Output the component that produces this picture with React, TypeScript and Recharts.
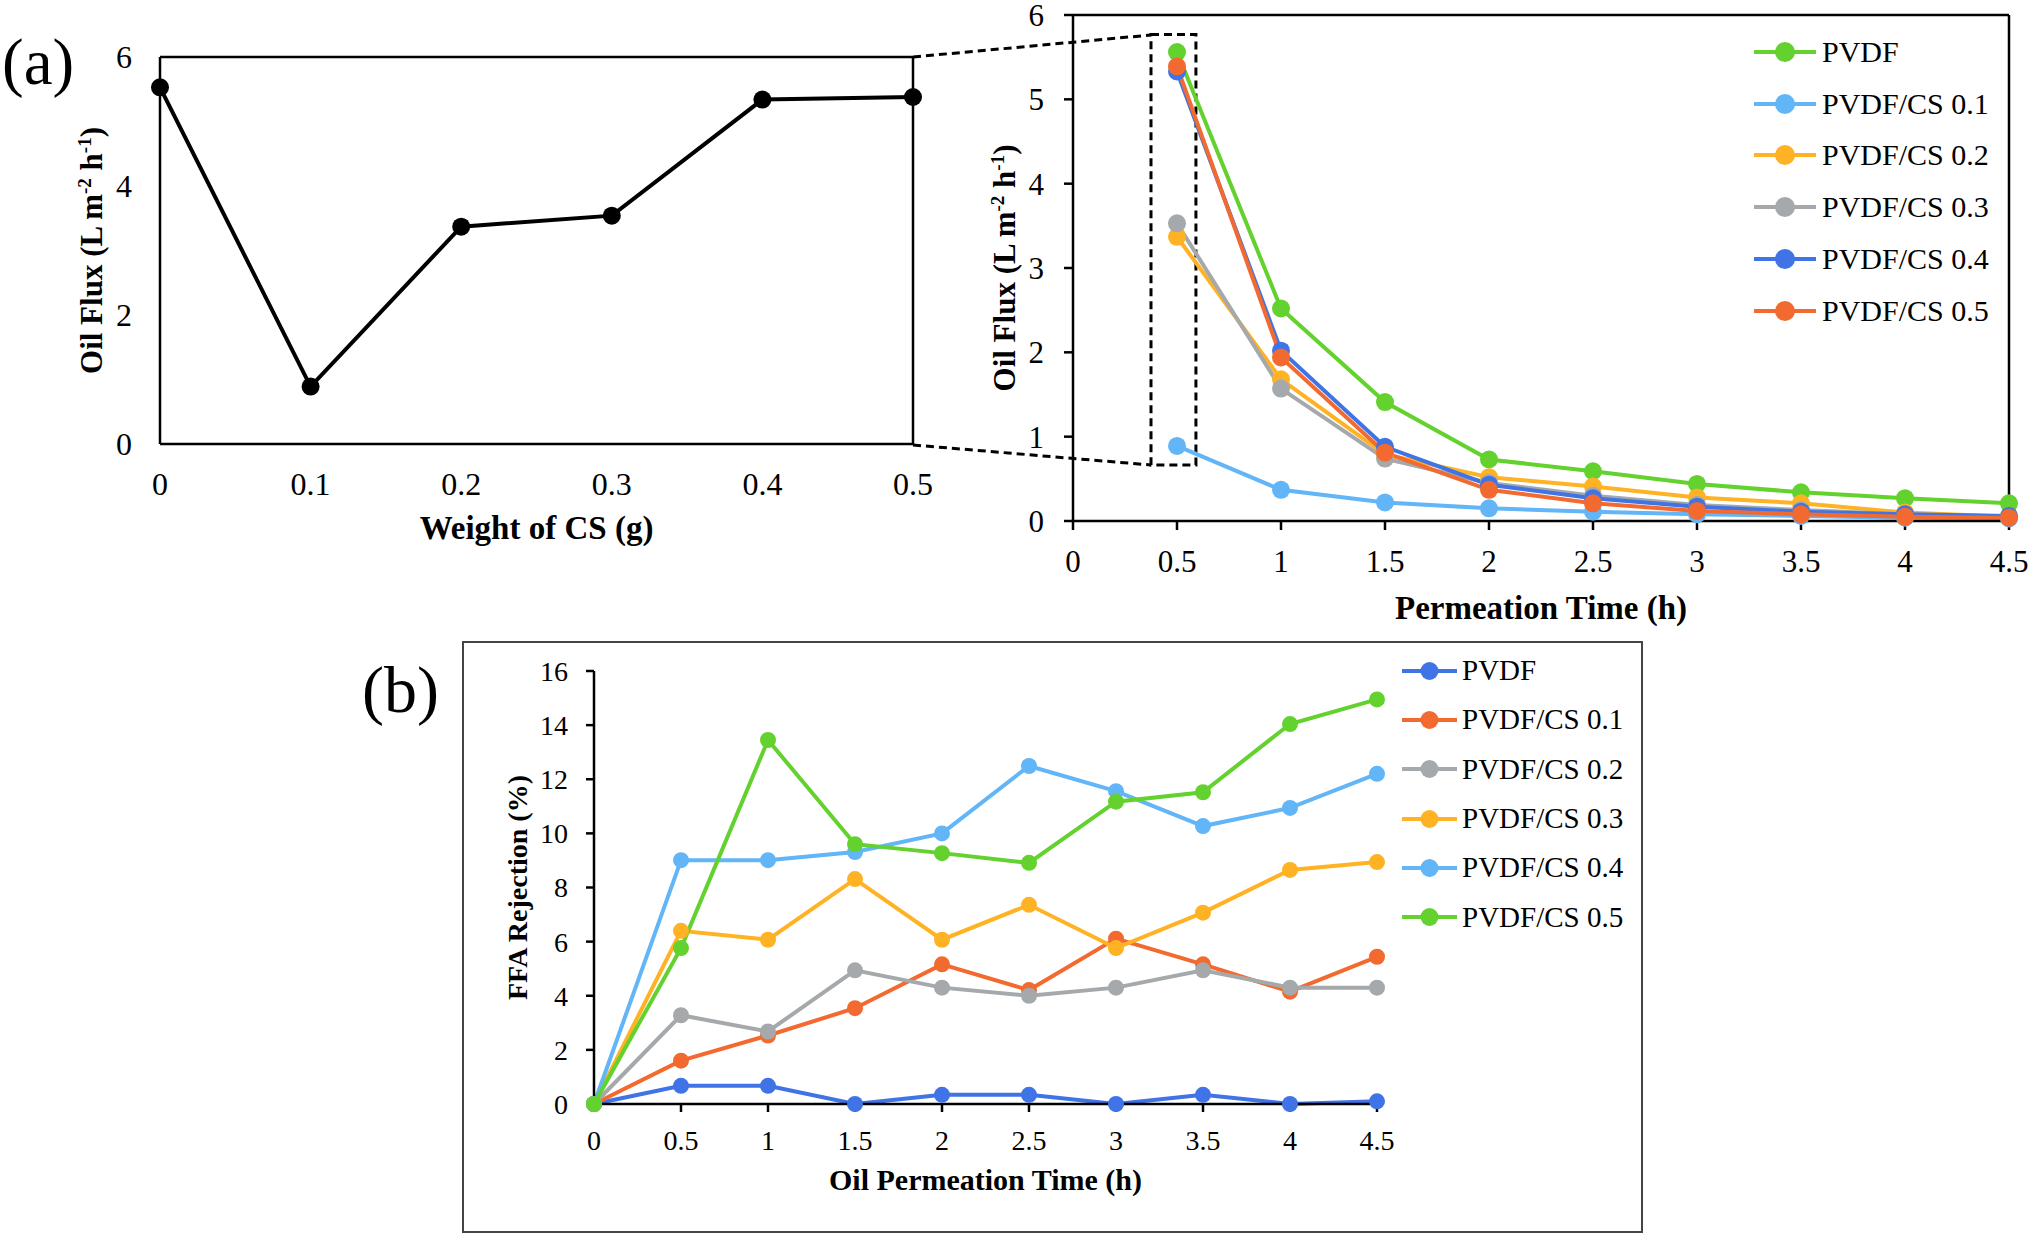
import React from "react"
import { LineChart, Line, XAxis, YAxis, Legend, Label, ReferenceLine, ReferenceArea } from "recharts"

const FONT = "'Liberation Serif', 'Times New Roman', serif"

// (a) left panel: oil flux against weight of CS
const csWeight = [0, 0.1, 0.2, 0.3, 0.4, 0.5]
const csFlux = [5.53, 0.89, 3.37, 3.54, 5.34, 5.38]

// (a) right panel: oil flux against permeation time
const permTime = [0.5, 1, 1.5, 2, 2.5, 3, 3.5, 4, 4.5]
const fluxPVDF = [5.56, 2.52, 1.41, 0.73, 0.59, 0.44, 0.34, 0.27, 0.21]
const fluxCS01 = [0.89, 0.37, 0.22, 0.15, 0.11, 0.08, 0.06, 0.04, 0.03]
const fluxCS02 = [3.37, 1.68, 0.79, 0.52, 0.41, 0.28, 0.21, 0.1, 0.05]
const fluxCS03 = [3.53, 1.57, 0.74, 0.45, 0.3, 0.19, 0.13, 0.08, 0.05]
const fluxCS04 = [5.33, 2.02, 0.88, 0.43, 0.27, 0.17, 0.11, 0.08, 0.06]
const fluxCS05 = [5.39, 1.94, 0.81, 0.37, 0.21, 0.12, 0.08, 0.05, 0.04]
const fluxNames = ["PVDF", "PVDF/CS 0.1", "PVDF/CS 0.2", "PVDF/CS 0.3", "PVDF/CS 0.4", "PVDF/CS 0.5"]
const fluxColors = ["#63d12e", "#62b5f6", "#ffb224", "#a5a9ab", "#3f73e6", "#f26a2f"]
const timeTicks = [0, 0.5, 1, 1.5, 2, 2.5, 3, 3.5, 4, 4.5]

// (b) FFA rejection against oil permeation time
const rejTime = [0, 0.5, 1, 1.5, 2, 2.5, 3, 3.5, 4, 4.5]
const rejPVDF = [0, 0.67, 0.67, 0, 0.34, 0.34, 0, 0.34, 0, 0.1]
const rejCS01 = [0, 1.6, 2.53, 3.54, 5.16, 4.21, 6.11, 5.16, 4.15, 5.44]
const rejCS02 = [0, 3.28, 2.68, 4.94, 4.3, 4.0, 4.3, 4.94, 4.3, 4.3]
const rejCS03 = [0, 6.4, 6.07, 8.31, 6.07, 7.36, 5.76, 7.07, 8.65, 8.94]
const rejCS04 = [0, 9.01, 9.01, 9.31, 10.0, 12.49, 11.56, 10.27, 10.94, 12.2]
const rejCS05 = [0, 5.76, 13.45, 9.6, 9.27, 8.91, 11.17, 11.52, 14.04, 14.95]
const rejNames = ["PVDF", "PVDF/CS 0.1", "PVDF/CS 0.2", "PVDF/CS 0.3", "PVDF/CS 0.4", "PVDF/CS 0.5"]
const rejColors = ["#3f73e6", "#f26a2f", "#a5a9ab", "#ffb224", "#62b5f6", "#63d12e"]

const weightData = csWeight.map((w, i) => ({ w, flux: csFlux[i] }))

const fluxSeries = [fluxPVDF, fluxCS01, fluxCS02, fluxCS03, fluxCS04, fluxCS05]
const fluxData = permTime.map((t, i) => {
  const row: any = { t }
  fluxSeries.forEach((s, k) => (row["s" + k] = s[i]))
  return row
})

const rejSeries = [rejPVDF, rejCS01, rejCS02, rejCS03, rejCS04, rejCS05]
const rejData = rejTime.map((t, i) => {
  const row: any = { t }
  rejSeries.forEach((s, k) => (row["s" + k] = s[i]))
  return row
})

const axisLine = { stroke: "#000", strokeWidth: 2.5 }

function tickStyle(size: number) {
  return { fill: "#000", fontSize: size, fontFamily: FONT }
}

// x axis title, baseline placed "dy" below the axis line
function xTitle(text: string, dy: number, size: number) {
  return (props: any) => {
    const vb = props.viewBox
    return (
      <text x={vb.x + vb.width / 2} y={vb.y + dy} textAnchor="middle" fontFamily={FONT} fontWeight="bold" fontSize={size} fill="#000">
        {text}
      </text>
    )
  }
}

// rotated y axis title, centred on the plot height
function yTitle(cx: number, size: number, flux: boolean, text = "") {
  return (props: any) => {
    const vb = props.viewBox
    const x = vb.x + cx
    const cy = vb.y + vb.height / 2
    const sup = Math.round(size * 0.62)
    const up = Math.round(size * 0.36)
    return (
      <text x={x} y={cy + size * 0.35} transform={`rotate(-90 ${x} ${cy})`} textAnchor="middle" fontFamily={FONT} fontWeight="bold" fontSize={size} fill="#000">
        {flux ? (
          <>
            Oil Flux (L m
            <tspan dy={-up} fontSize={sup}>-2</tspan>
            <tspan dy={up}> h</tspan>
            <tspan dy={-up} fontSize={sup}>-1</tspan>
            <tspan dy={up}>)</tspan>
          </>
        ) : (
          text
        )}
      </text>
    )
  }
}

function SeriesLegend({ names, colors, rowH, fontSize, lineW, r, gap }: any) {
  return (
    <div>
      {names.map((n: string, i: number) => (
        <div key={n} style={{ display: "flex", alignItems: "center", height: rowH }}>
          <svg width={lineW} height={24}>
            <line x1={0} y1={12} x2={lineW} y2={12} stroke={colors[i]} strokeWidth={4} />
            <circle cx={lineW / 2} cy={12} r={r} fill={colors[i]} />
          </svg>
          <span style={{ marginLeft: gap, fontSize, fontFamily: FONT, color: "#000", lineHeight: 1, whiteSpace: "nowrap" }}>{n}</span>
        </div>
      ))}
    </div>
  )
}

export default function App() {
  return (
    <div style={{ position: "absolute", left: 0, top: 0, width: 2032, height: 1238, background: "#fff", fontFamily: FONT }}>
      {/* (a) left */}
      <div style={{ position: "absolute", left: 0, top: 0 }}>
        <LineChart width={960} height={560} data={weightData} margin={{ top: 57, right: 47, bottom: 0, left: 0 }}>
          <XAxis dataKey="w" type="number" domain={[0, 0.5]} ticks={csWeight} interval={0} tickLine={false} tickSize={0} tickMargin={28}
            height={116} axisLine={axisLine} tick={tickStyle(32)}>
            <Label content={xTitle("Weight of CS (g)", 95, 33)} />
          </XAxis>
          <YAxis type="number" domain={[0, 6]} ticks={[0, 2, 4, 6]} interval={0} tickLine={false} tickSize={0} tickMargin={28}
            width={160} axisLine={axisLine} tick={tickStyle(32)}>
            <Label content={yTitle(91, 31, true)} />
          </YAxis>
          <ReferenceLine y={6} stroke="#000" strokeWidth={2.5} />
          <ReferenceLine x={0.5} stroke="#000" strokeWidth={2.5} />
          <Line dataKey="flux" stroke="#000" strokeWidth={4} dot={{ r: 9, fill: "#000", stroke: "#000", strokeWidth: 0 }} isAnimationActive={false} />
        </LineChart>
      </div>

      {/* (a) right */}
      <div style={{ position: "absolute", left: 980, top: 0 }}>
        <LineChart width={1052} height={640} data={fluxData} margin={{ top: 15, right: 23, bottom: 0, left: 0 }}>
          <XAxis dataKey="t" type="number" domain={[0, 4.5]} ticks={timeTicks} interval={0} tickSize={9} tickMargin={20}
            tickLine={axisLine} height={119} axisLine={axisLine} tick={tickStyle(31)}>
            <Label content={xTitle("Permeation Time (h)", 98, 33)} />
          </XAxis>
          <YAxis type="number" domain={[0, 6]} ticks={[0, 1, 2, 3, 4, 5, 6]} interval={0} tickSize={9} tickMargin={20}
            tickLine={axisLine} width={93} axisLine={axisLine} tick={tickStyle(31)}>
            <Label content={yTitle(24, 31, true)} />
          </YAxis>
          <ReferenceLine y={6} stroke="#000" strokeWidth={2.5} />
          <ReferenceLine x={4.5} stroke="#000" strokeWidth={2.5} />
          <ReferenceArea x1={0.375} x2={0.591} y1={0.665} y2={5.77} fill="none" fillOpacity={0} stroke="#000" strokeWidth={3} strokeDasharray="8 5" ifOverflow="visible" />
          {fluxNames.map((n, k) => (
            <Line key={n} name={n} dataKey={"s" + k} stroke={fluxColors[k]} strokeWidth={4}
              dot={{ r: 9, fill: fluxColors[k], stroke: fluxColors[k], strokeWidth: 0 }} isAnimationActive={false} />
          ))}
          <Legend layout="vertical" align="center" verticalAlign="middle"
            wrapperStyle={{ left: 774, top: 26, width: "auto", height: "auto" }}
            content={() => <SeriesLegend names={fluxNames} colors={fluxColors} rowH={51.8} fontSize={30} lineW={62} r={10} gap={6} />} />
        </LineChart>
      </div>

      {/* (b) frame */}
      <div style={{ position: "absolute", left: 462, top: 641, width: 1181, height: 592, border: "2px solid #444", boxSizing: "border-box" }} />

      {/* (b) */}
      <div style={{ position: "absolute", left: 470, top: 650 }}>
        <LineChart width={1160} height={575} data={rejData} margin={{ top: 21, right: 253, bottom: 0, left: 0 }}>
          <XAxis dataKey="t" type="number" domain={[0, 4.5]} ticks={timeTicks} interval={0} tickSize={8} tickMargin={18}
            tickLine={axisLine} height={121} axisLine={axisLine} tick={tickStyle(28)}>
            <Label content={xTitle("Oil Permeation Time (h)", 86, 30)} />
          </XAxis>
          <YAxis type="number" domain={[0, 16]} ticks={[0, 2, 4, 6, 8, 10, 12, 14, 16]} interval={0} tickSize={8} tickMargin={18}
            tickLine={axisLine} width={124} axisLine={axisLine} tick={tickStyle(28)}>
            <Label content={yTitle(47, 28, false, "FFA Rejection (%)")} />
          </YAxis>
          {rejNames.map((n, k) => (
            <Line key={n} name={n} dataKey={"s" + k} stroke={rejColors[k]} strokeWidth={4}
              dot={{ r: 8, fill: rejColors[k], stroke: rejColors[k], strokeWidth: 0 }} isAnimationActive={false} />
          ))}
          <Legend layout="vertical" align="center" verticalAlign="middle"
            wrapperStyle={{ left: 932, top: -4, width: "auto", height: "auto" }}
            content={() => <SeriesLegend names={rejNames} colors={rejColors} rowH={49.3} fontSize={29} lineW={55} r={9} gap={5} />} />
        </LineChart>
      </div>

      {/* panel letters and zoom connectors */}
      <svg width={2032} height={1238} style={{ position: "absolute", left: 0, top: 0, pointerEvents: "none" }}>
        <text x={2} y={84} fontFamily={FONT} fontSize={65} fill="#000">(a)</text>
        <text x={362} y={712} fontFamily={FONT} fontSize={66} fill="#000">(b)</text>
        <line x1={913} y1={57} x2={1151} y2={35} stroke="#000" strokeWidth={3} strokeDasharray="8 5" />
        <line x1={913} y1={445} x2={1151} y2={465} stroke="#000" strokeWidth={3} strokeDasharray="8 5" />
      </svg>
    </div>
  )
}
